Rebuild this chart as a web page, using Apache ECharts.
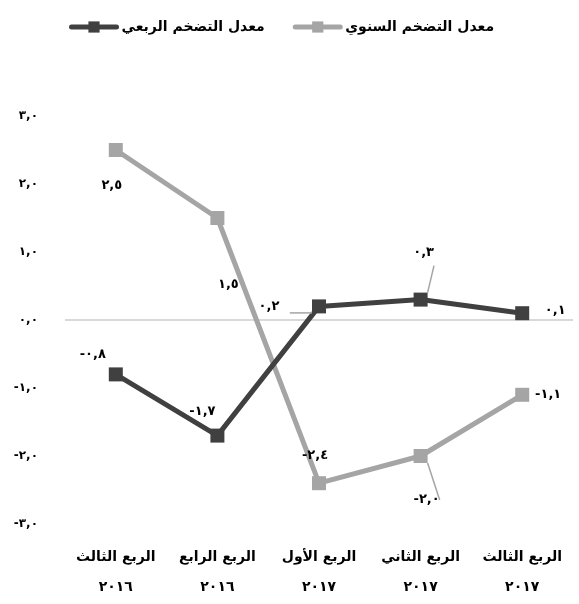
<!DOCTYPE html>
<html>
<head>
<meta charset="utf-8">
<script src="https://cdn.jsdelivr.net/npm/echarts@6/dist/echarts.min.js"></script>
<style>
  html, body { margin: 0; padding: 0; background: #fff; }
  #chart { width: 579px; height: 604px; }
</style>
</head>
<body>
<div id="chart"></div>
<script>
// categories (left to right)
const quarters = ['الربع الثالث', 'الربع الرابع', 'الربع الأول', 'الربع الثاني', 'الربع الثالث'];
const years = ['٢٠١٦', '٢٠١٦', '٢٠١٧', '٢٠١٧', '٢٠١٧'];

// series values
const annualName = 'معدل التضخم السنوي';
const annualValues = [2.5, 1.5, -2.4, -2.0, -1.1];
const quarterlyName = 'معدل التضخم الربعي';
const quarterlyValues = [-0.8, -1.7, 0.2, 0.3, 0.1];

// y ticks
const yMin = -3, yMax = 3, yStep = 1;

// label placement (offset from the point, leader line or not)
const annualLabelPos = [[-4, 36], [11, 67], [-4, -28], [6, 44, true], [26, 0]];
const quarterlyLabelPos = [[-23, -20], [-15, -24], [-50, 0, true], [3, -47, true], [33, -3]];

const digits = '٠١٢٣٤٥٦٧٨٩';
function toArabic(v) {
    return v.toFixed(1).replace(/[0-9]/g, d => digits[+d]).replace('.', ',');
}

function buildData(values, pos) {
    return values.map((v, i) => ({
        value: v,
        label: { offset: [pos[i][0], pos[i][1]] },
        labelLine: { show: !!pos[i][2] }
    }));
}

const font = 'DejaVu Sans';
const labelStyle = {
    show: true,
    position: 'inside',
    color: '#000',
    fontFamily: font,
    fontWeight: 'bold',
    fontSize: 13,
    textBorderWidth: 0,
    formatter: p => toArabic(p.value)
};

const chart = echarts.init(document.getElementById('chart'));
chart.setOption({
    animation: false,
    legend: {
        data: [quarterlyName, annualName],
        left: 64,
        top: 15,
        itemWidth: 45,
        itemHeight: 14,
        itemGap: 28,
        lineStyle: { width: 5, cap: 'round' },
        textStyle: { fontFamily: font, fontWeight: 'bold', fontSize: 14, color: '#000' }
    },
    grid: { left: 65, right: 6, top: 116, bottom: 80 },
    xAxis: {
        type: 'category',
        data: quarters.map((q, i) => q + '\n' + years[i]),
        axisLine: { show: false },
        axisTick: { show: false },
        axisLabel: {
            interval: 0,
            margin: 18,
            lineHeight: 30,
            color: '#000',
            fontFamily: font,
            fontWeight: 'bold',
            fontSize: 14
        }
    },
    yAxis: {
        type: 'value',
        min: yMin,
        max: yMax,
        interval: yStep,
        splitLine: { show: false },
        axisLine: { show: false },
        axisTick: { show: false },
        axisLabel: {
            margin: 27,
            color: '#000',
            fontFamily: font,
            fontWeight: 'bold',
            fontSize: 12,
            formatter: v => toArabic(v)
        }
    },
    series: [
        {
            name: annualName,
            type: 'line',
            data: buildData(annualValues, annualLabelPos),
            symbol: 'rect',
            symbolSize: 14,
            itemStyle: { color: '#a5a5a5' },
            lineStyle: { color: '#a5a5a5', width: 5 },
            label: labelStyle,
            labelLine: { lineStyle: { color: '#a5a5a5', width: 1.5 } },
            markLine: {
                silent: true,
                symbol: 'none',
                z: 1,
                label: { show: false },
                lineStyle: { color: '#d9d9d9', type: 'solid', width: 2 },
                data: [{ yAxis: 0 }]
            }
        },
        {
            name: quarterlyName,
            type: 'line',
            data: buildData(quarterlyValues, quarterlyLabelPos),
            symbol: 'rect',
            symbolSize: 14,
            itemStyle: { color: '#404040' },
            lineStyle: { color: '#404040', width: 5 },
            label: labelStyle,
            labelLine: { lineStyle: { color: '#a5a5a5', width: 1.5 } }
        }
    ]
});
</script>
</body>
</html>
